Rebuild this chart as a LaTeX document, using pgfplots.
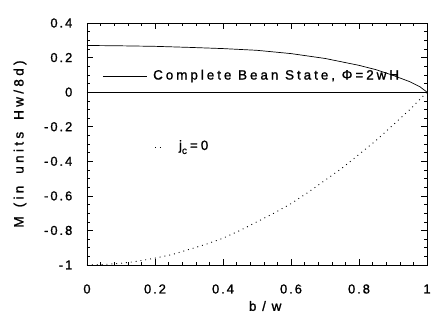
\documentclass[border=0pt]{standalone}
\usepackage{fontspec}
\setmainfont{Liberation Sans}[LetterSpace=15, FakeBold=1.2]
\usepackage{pgfplots}
\pgfplotsset{compat=1.18}
\begin{document}
\fontsize{13.5}{15}\selectfont
\begin{tikzpicture}[x=1bp,y=1bp]
\useasboundingbox (-87,-52) rectangle (356,265);
\begin{axis}[
  at={(0,0)}, anchor=south west,
  scale only axis, width=340bp, height=242bp,
  xmin=0, xmax=1, ymin=-1, ymax=0.4,
  xtick={0,0.2,...,1}, ytick={-1,-0.8,...,0.4},
  xticklabels={0,0.2,0.4,0.6,0.8,1},
  yticklabels={-1,-0.8,-0.6,-0.4,-0.2,0,0.2,0.4},
  minor x tick num=4, minor y tick num=3,
  tick align=inside, major tick length=6bp, minor tick length=3bp,
  tick style={black, line width=0.5pt},
  axis line style={line width=0.7pt},
  tick label style={font=\fontsize{13}{15}\selectfont},
  /pgf/number format/assume math mode=true,
  xticklabel style={anchor=center, yshift=-24bp},
  yticklabel style={anchor=east, xshift=-10bp},
  xlabel={b / w},
  xlabel style={at={(axis description cs:0.524,0)}, anchor=center, yshift=-41bp},
  ylabel={\addfontfeature{LetterSpace=25}M\hspace{9bp}(in\hspace{12bp}units\hspace{12bp}Hw/8d)},
  ylabel style={at={(axis description cs:-0.197,0.5)}, anchor=center},
  clip=false,
]
\addplot[black, line width=0.7pt] coordinates {
(0,0.27) (0.1,0.268) (0.2,0.265) (0.3,0.259) (0.4,0.252) (0.5,0.242)
(0.6,0.223) (0.7,0.195) (0.8,0.155) (0.85,0.13) (0.9,0.097) (0.95,0.06)
(0.98,0.03) (1.0,0.0)};
\addplot[black, line width=0.7pt] coordinates {(0,0) (1,0)};
\addplot[black, line width=0.9pt, dash pattern=on 0.9pt off 4pt] coordinates {
(0,-1.0) (0.05,-0.997) (0.1,-0.99) (0.15,-0.978) (0.2,-0.96) (0.25,-0.94)
(0.3,-0.91) (0.35,-0.88) (0.4,-0.845) (0.45,-0.80) (0.5,-0.75) (0.55,-0.70)
(0.6,-0.645) (0.65,-0.58) (0.7,-0.51) (0.75,-0.44) (0.8,-0.36) (0.85,-0.28)
(0.9,-0.19) (0.95,-0.10) (1.0,0.0)};
\draw[black, line width=0.7pt] (axis cs:0.047,0.093) -- (axis cs:0.176,0.093);
\node[anchor=west, inner sep=0pt] at (axis cs:0.194,0.093) {\addfontfeature{LetterSpace=22}Complete Bean State, Φ=2wH};
\draw[black, line width=0.9pt, dash pattern=on 0.9pt off 4pt] (axis cs:0.2,-0.318) -- (axis cs:0.226,-0.318);
\node[anchor=west, inner sep=0pt] at (axis cs:0.27,-0.318) {j\raisebox{-4bp}{\fontsize{10}{11}\selectfont c}\hspace{3bp}=\hspace{3bp}0};
\end{axis}
\end{tikzpicture}
\end{document}
